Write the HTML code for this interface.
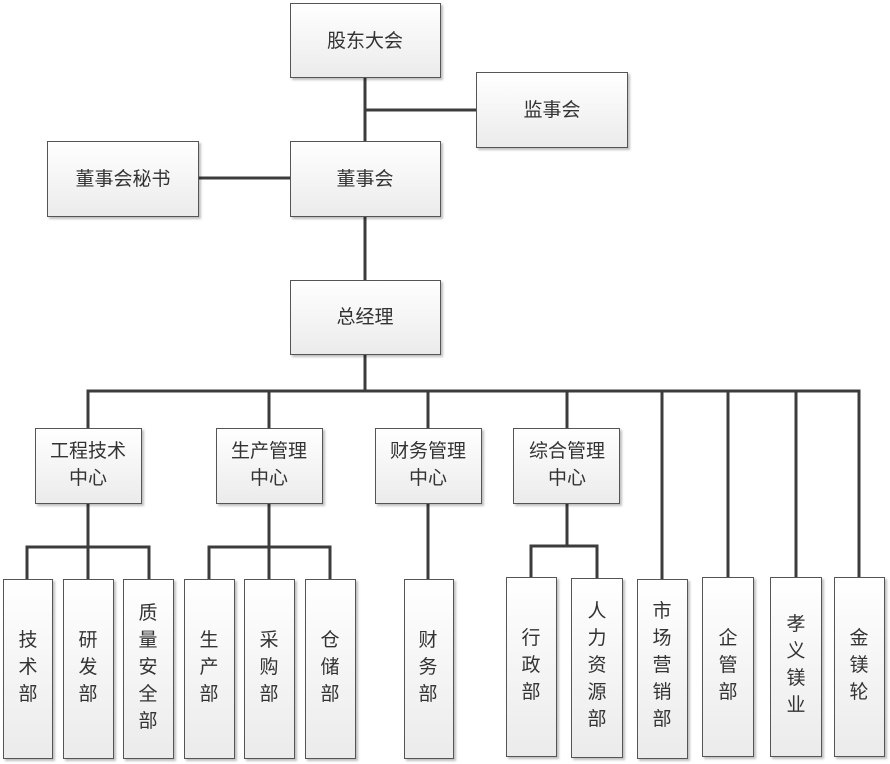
<!DOCTYPE html>
<html><head><meta charset="utf-8"><style>
html,body{margin:0;padding:0;background:#fff;width:890px;height:764px;overflow:hidden}
svg text{font-family:"Liberation Sans","Noto Sans CJK SC",sans-serif;font-size:19px;fill:#333}
</style></head><body>
<svg width="890" height="764" viewBox="0 0 890 764" xmlns="http://www.w3.org/2000/svg">
<defs>
<linearGradient id="g" x1="0" y1="0" x2="0" y2="1"><stop offset="0" stop-color="#ffffff"/><stop offset="1" stop-color="#ebebeb"/></linearGradient>
</defs>
<g stroke="#3c3c3c" stroke-width="3" fill="none">
<line x1="365" y1="77" x2="365" y2="392"/>
<line x1="365" y1="110" x2="476" y2="110"/>
<line x1="198" y1="178" x2="290" y2="178"/>
<polyline points="88,428 88,391 859,391 859,579"/>
<line x1="269" y1="391" x2="269" y2="428"/>
<line x1="428" y1="391" x2="428" y2="428"/>
<line x1="567" y1="391" x2="567" y2="428"/>
<line x1="662" y1="391" x2="662" y2="579"/>
<line x1="728" y1="391" x2="728" y2="579"/>
<line x1="796" y1="391" x2="796" y2="579"/>
<line x1="88" y1="503" x2="88" y2="579"/>
<polyline points="27,579 27,547 149,547 149,579"/>
<line x1="269" y1="503" x2="269" y2="579"/>
<polyline points="209,579 209,547 330,547 330,579"/>
<line x1="428" y1="503" x2="428" y2="579"/>
<line x1="567" y1="503" x2="567" y2="546"/>
<polyline points="531,579 531,546 597,546 597,579"/>
</g>
<g fill="url(#g)" stroke="#555" stroke-width="1" style="filter:drop-shadow(2px 2px 1px rgba(0,0,0,0.25))">
<rect x="290.5" y="3.5" width="150" height="74"/>
<rect x="476.5" y="72.5" width="151" height="75"/>
<rect x="290.5" y="141.5" width="150" height="75"/>
<rect x="47.5" y="141.5" width="151" height="75"/>
<rect x="290.5" y="280.5" width="150" height="74"/>
<rect x="35.5" y="428.5" width="106" height="75"/>
<rect x="216.5" y="428.5" width="106" height="75"/>
<rect x="375.5" y="428.5" width="106" height="75"/>
<rect x="513.5" y="428.5" width="106" height="75"/>
<rect x="3.5" y="579.5" width="49" height="179"/>
<rect x="63.5" y="579.5" width="50" height="179"/>
<rect x="123.5" y="579.5" width="50" height="179"/>
<rect x="184.5" y="579.5" width="50" height="179"/>
<rect x="244.5" y="579.5" width="50" height="179"/>
<rect x="305.5" y="579.5" width="50" height="179"/>
<rect x="404.5" y="579.5" width="49" height="179"/>
<rect x="506.5" y="577.5" width="50" height="179"/>
<rect x="571.5" y="578.5" width="51" height="179"/>
<rect x="637.5" y="579.5" width="50" height="179"/>
<rect x="702.5" y="577.5" width="51" height="179"/>
<rect x="770.5" y="577.5" width="51" height="179"/>
<rect x="834.5" y="577.5" width="50" height="179"/>
</g>
<g text-anchor="middle">
<text x="365" y="47">股东大会</text>
<text x="552" y="116">监事会</text>
<text x="365" y="185">董事会</text>
<text x="123" y="185">董事会秘书</text>
<text x="365" y="323">总经理</text>
<text x="88" y="457">工程技术</text><text x="88" y="484">中心</text>
<text x="269" y="457">生产管理</text><text x="269" y="484">中心</text>
<text x="428" y="457">财务管理</text><text x="428" y="484">中心</text>
<text x="567" y="457">综合管理</text><text x="567" y="484">中心</text>
</g>
<g text-anchor="middle">
<text x="28" y="646">技</text><text x="28" y="673">术</text><text x="28" y="700">部</text>
<text x="88" y="646">研</text><text x="88" y="673">发</text><text x="88" y="700">部</text>
<text x="148" y="619">质</text><text x="148" y="646">量</text><text x="148" y="673">安</text><text x="148" y="700">全</text><text x="148" y="727">部</text>
<text x="209" y="646">生</text><text x="209" y="673">产</text><text x="209" y="700">部</text>
<text x="269" y="646">采</text><text x="269" y="673">购</text><text x="269" y="700">部</text>
<text x="330" y="646">仓</text><text x="330" y="673">储</text><text x="330" y="700">部</text>
<text x="428" y="646">财</text><text x="428" y="673">务</text><text x="428" y="700">部</text>
<text x="531" y="644">行</text><text x="531" y="671">政</text><text x="531" y="698">部</text>
<text x="597" y="617">人</text><text x="597" y="644">力</text><text x="597" y="671">资</text><text x="597" y="698">源</text><text x="597" y="725">部</text>
<text x="662" y="617">市</text><text x="662" y="644">场</text><text x="662" y="671">营</text><text x="662" y="698">销</text><text x="662" y="725">部</text>
<text x="728" y="644">企</text><text x="728" y="671">管</text><text x="728" y="698">部</text>
<text x="796" y="630">孝</text><text x="796" y="657">义</text><text x="796" y="684">镁</text><text x="796" y="711">业</text>
<text x="859" y="644">金</text><text x="859" y="671">镁</text><text x="859" y="698">轮</text>
</g>
</svg>
</body></html>
